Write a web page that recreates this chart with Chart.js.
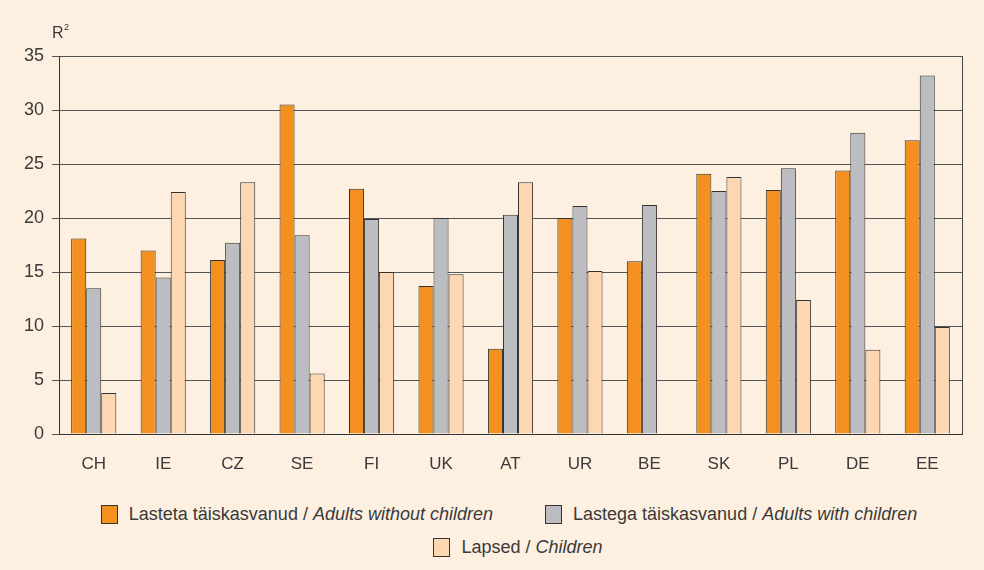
<!DOCTYPE html>
<html>
<head>
<meta charset="utf-8">
<script src="https://cdn.jsdelivr.net/npm/chart.js@4.4.1/dist/chart.umd.min.js"></script>
<style>
    html, body { margin: 0; padding: 0; background: #fdf0e1; }
    body { width: 984px; height: 570px; position: relative; overflow: hidden;
           font-family: "Liberation Sans", Arial, sans-serif; color: #3a3a3a; }
    #wrap { position: absolute; left: 0; top: 0; width: 984px; height: 490px; }
    .legend { position: absolute; left: 0; width: 984px; display: flex; justify-content: center;
              align-items: center; font-size: 18px; box-sizing: border-box; }
    .item { display: flex; align-items: center; margin: 0 26px; }
    .box { width: 17px; height: 19px; border: 1px solid #333; box-sizing: border-box; margin-right: 11px; }
</style>
</head>
<body>
<div id="wrap"><canvas id="chart"></canvas></div>
<div class="legend" style="top:504px; padding-left:34px" id="leg1"></div>
<div class="legend" style="top:537px; padding-left:52px" id="leg2"></div>
<script>
    const categories = ['CH', 'IE', 'CZ', 'SE', 'FI', 'UK', 'AT', 'UR', 'BE', 'SK', 'PL', 'DE', 'EE'];
    const adultsWithout = [18.1, 17.0, 16.1, 30.5, 22.7, 13.7, 7.9, 20.0, 16.0, 24.1, 22.6, 24.4, 27.2];
    const adultsWith = [13.5, 14.5, 17.7, 18.4, 19.9, 20.0, 20.3, 21.1, 21.2, 22.5, 24.6, 27.9, 33.2];
    const children = [3.8, 22.4, 23.3, 5.6, 15.0, 14.8, 23.3, 15.1, null, 23.8, 12.4, 7.8, 9.9];
    const yTicks = [0, 5, 10, 15, 20, 25, 30, 35];

    const seriesNames = [
        ['Lasteta täiskasvanud / ', 'Adults without children'],
        ['Lastega täiskasvanud / ', 'Adults with children'],
        ['Lapsed / ', 'Children']
    ];
    const colors = ['#f39020', '#bcbdc1', '#fdd7b1'];

    // frame line on the right and the R² label
    const extras = {
        id: 'extras',
        afterDraw(chart) {
            const { ctx, chartArea } = chart;
            ctx.save();
            ctx.strokeStyle = '#444';
            ctx.lineWidth = 1;
            ctx.beginPath();
            ctx.moveTo(Math.round(chartArea.right) + 0.5, chartArea.top);
            ctx.lineTo(Math.round(chartArea.right) + 0.5, chartArea.bottom);
            ctx.stroke();
            ctx.fillStyle = '#3a3a3a';
            ctx.font = '16px "Liberation Sans", Arial, sans-serif';
            ctx.textBaseline = 'alphabetic';
            ctx.fillText('R', 52, 38);
            ctx.font = '9px "Liberation Sans", Arial, sans-serif';
            ctx.fillText('2', 64, 30);
            ctx.restore();
        }
    };

    const ctx = document.getElementById('chart').getContext('2d');
    new Chart(ctx, {
        type: 'bar',
        data: {
            labels: categories,
            datasets: [adultsWithout, adultsWith, children].map((d, i) => ({
                label: seriesNames[i].join(''),
                data: d,
                backgroundColor: colors[i],
                borderColor: '#333',
                borderWidth: 1,
                categoryPercentage: 0.65,
                barPercentage: 1
            }))
        },
        options: {
            responsive: true,
            maintainAspectRatio: false,
            animation: false,
            layout: { padding: { left: 0, top: 56, right: 22, bottom: 0 } },
            scales: {
                x: {
                    grid: { display: false, drawTicks: false },
                    border: { display: true, color: '#333', width: 1 },
                    ticks: { color: '#3a3a3a', padding: 20, font: { size: 17, family: '"Liberation Sans", Arial, sans-serif' } },
                    afterFit(scale) { scale.height = 56; }
                },
                y: {
                    min: 0,
                    max: 35,
                    afterBuildTicks(scale) { scale.ticks = yTicks.map(v => ({ value: v })); },
                    grid: { color: '#555', lineWidth: 1, tickLength: 7 },
                    border: { display: true, color: '#333', width: 1 },
                    ticks: { color: '#3a3a3a', padding: 8, font: { size: 18, family: '"Liberation Sans", Arial, sans-serif' } },
                    afterFit(scale) { scale.width = 59; }
                }
            },
            plugins: {
                legend: { display: false },
                tooltip: { enabled: false }
            }
        },
        plugins: [extras]
    });

    // legend in HTML so the English part can be italic
    function legendItem(i) {
        const el = document.createElement('div');
        el.className = 'item';
        el.innerHTML = '<span class="box" style="background:' + colors[i] + '"></span>' +
            '<span>' + seriesNames[i][0] + '<i>' + seriesNames[i][1] + '</i></span>';
        return el;
    }
    document.getElementById('leg1').appendChild(legendItem(0));
    document.getElementById('leg1').appendChild(legendItem(1));
    document.getElementById('leg2').appendChild(legendItem(2));
</script>
</body>
</html>
